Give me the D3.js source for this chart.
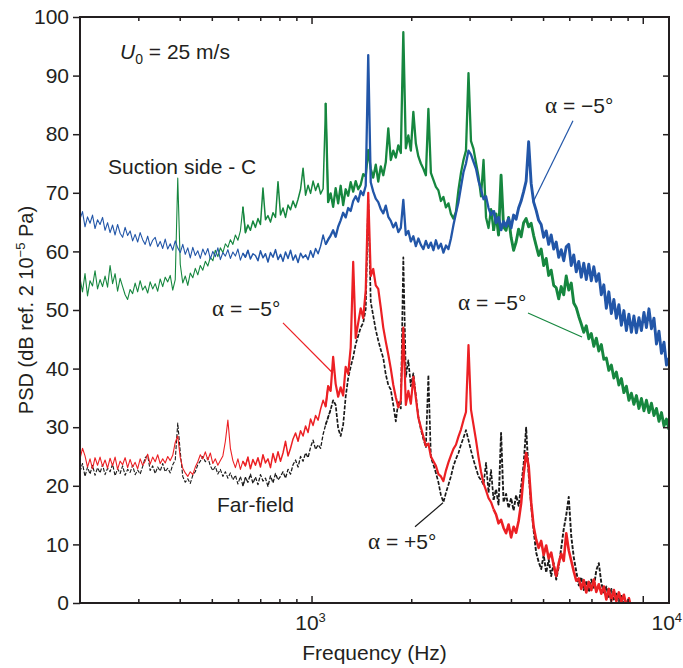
<!DOCTYPE html>
<meta charset="utf-8">
<style>
body { margin: 0; background: #fff; }
text { font-family: "Liberation Sans", Arial, sans-serif; fill: #231f20; }
.axis path, .axis line { stroke: #231f20; }
.greek { font-family: "Liberation Serif", "DejaVu Serif", serif; }
</style>
<script src="https://cdn.jsdelivr.net/npm/d3@7"></script>
<body>
<div id="chart"></div>
<script>
// analyser bins, log spaced from 200 Hz to 12 kHz (236 bins)
var fMin = 200, fMax = 12000, nBins = 236;
var freqs = d3.range(nBins).map(function(i) { return fMin * Math.pow(fMax / fMin, i / (nBins - 1)); });

// suction side, alpha = -5 deg (blue)
var suctionBlue = [
  65.5, 66.8, 64.2, 65.9, 64.8, 66.2, 63.9, 65.4, 64.6, 65.8,
  63.6, 64.9, 63.2, 64.5, 62.8, 64.6, 63.1, 62.4, 64.1, 62.7,
  63.5, 61.8, 62.9, 61.6, 63.2, 62.0, 61.2, 62.6, 60.9, 61.9,
  62.4, 60.8, 61.7, 60.5, 62.1, 60.4, 61.3, 60.2, 61.8, 60.6,
  59.8, 61.2, 59.5, 60.6, 58.9, 60.7, 59.3, 60.1, 58.8, 60.4,
  59.4, 60.5, 58.7, 60.0, 59.1, 60.6, 58.6, 59.8, 59.2, 60.3,
  58.8, 59.9, 59.2, 60.4, 58.5, 59.7, 59.0, 60.2, 58.7, 59.6,
  59.3, 58.4, 60.1, 58.9, 59.6, 58.2, 59.8, 59.0, 60.3, 58.6,
  59.5, 58.3, 59.9, 58.8, 60.2, 58.5, 59.4, 58.1, 59.7, 58.9,
  59.4, 58.6, 60.1, 59.0, 60.5, 59.6, 60.9, 62.8, 61.2, 62.0,
  62.7, 63.6, 62.5, 64.2, 65.3, 66.6, 65.8, 67.4, 66.9, 68.6,
  69.4, 68.5, 70.3, 69.6, 71.2, 93.5, 71.8, 70.2, 69.0, 68.4,
  67.2, 66.5, 67.8, 65.9, 65.2, 64.1, 64.9, 63.3, 64.0, 68.8,
  62.8, 63.5, 61.7, 62.6, 60.9, 62.2, 61.1, 60.4, 61.8, 60.6,
  61.5, 60.2, 61.9, 60.5, 61.3, 59.8, 61.0, 60.4, 62.2, 64.5,
  66.5, 68.4, 71.0, 73.5, 75.0, 77.2, 76.5, 75.3, 74.1, 72.0,
  70.6, 68.9, 69.4, 67.4, 66.2, 67.0, 64.9, 65.8, 63.7, 65.1,
  64.3, 65.6, 64.0, 66.2, 65.5, 67.4, 68.6, 70.2, 72.0, 78.7,
  71.6, 68.4, 67.0, 65.3, 64.6, 62.4, 63.5, 61.2, 62.8, 60.4,
  61.6, 59.0, 60.3, 58.4, 60.8, 61.2, 57.6, 59.4, 56.5, 58.3,
  55.6, 58.0, 55.2, 57.8, 55.0, 57.4, 54.9, 56.2, 52.6, 54.3,
  50.3, 53.1, 49.4, 51.8, 48.6, 50.9, 47.4, 49.9, 46.5, 49.3,
  46.2, 49.0, 46.1, 48.7, 46.5, 49.6, 47.0, 50.2, 46.8, 48.6,
  44.2, 46.4, 42.6, 44.5, 40.6, 41.8
];

// suction side, second config (green)
var suctionGreen = [
  55.4, 53.1, 56.2, 52.4, 55.0, 54.1, 56.7, 53.6, 55.2, 54.0,
  55.8, 53.9, 57.6, 54.5, 56.2, 53.2, 55.4, 54.0, 52.6, 51.8,
  53.5, 52.8, 54.6, 53.1, 55.0, 53.4, 54.1, 52.9, 54.8, 53.6,
  54.5, 53.2, 55.3, 54.0, 55.6, 54.8, 55.9, 53.4, 55.2, 72.5,
  57.8, 54.6, 55.8, 54.2, 56.3, 55.5, 57.1, 56.0, 57.6, 56.8,
  58.3, 57.5, 59.0, 58.4, 60.2, 59.1, 60.6, 59.8, 61.3, 60.7,
  62.0, 61.2, 62.8, 61.9, 63.5, 67.6, 63.2, 64.5, 63.6, 65.2,
  64.1, 65.6, 64.6, 70.8, 65.4, 66.1, 65.0, 66.6, 65.8, 71.9,
  66.2, 67.4, 65.8, 67.9, 67.1, 68.6, 67.5, 68.9, 70.6, 74.2,
  69.6, 71.3, 69.9, 72.0, 70.4, 71.6, 69.8, 70.7, 85.3, 68.4,
  69.9, 67.6, 70.8, 68.2, 71.2, 67.9, 70.6, 69.5, 71.8, 70.2,
  72.0, 70.6, 71.4, 73.2, 72.8, 77.3, 74.1, 72.6, 74.8, 71.9,
  74.5, 73.0, 75.2, 81.0, 75.6, 77.2, 76.0, 78.1, 76.8, 97.4,
  77.6, 79.8, 77.2, 83.8, 78.4, 76.2, 75.0, 74.1, 73.0, 84.3,
  73.4, 72.2, 71.0, 70.4, 68.6, 69.3, 67.5, 68.2, 66.4, 65.6,
  66.8, 70.5, 73.4, 75.6, 77.2, 90.4, 78.8, 77.5, 75.1, 72.8,
  69.4, 75.6, 65.8, 64.0, 67.2, 63.5, 66.4, 62.8, 73.0, 64.2,
  63.6, 65.8, 62.4, 60.2, 61.6, 63.8, 62.5, 64.9, 65.6, 64.2,
  64.8, 62.7, 61.0, 59.3, 60.4, 57.6, 58.8, 55.9, 56.8, 54.2,
  53.8, 51.9, 54.0, 52.6, 55.8, 53.4, 54.6, 51.2, 50.4, 48.9,
  47.6, 46.2, 47.3, 45.1, 46.0, 43.8, 45.2, 43.0, 44.1, 41.6,
  41.8, 39.7, 40.6, 38.4, 39.4, 37.2, 38.3, 35.9, 37.0, 34.6,
  35.8, 33.9, 35.4, 33.2, 34.9, 32.8, 34.6, 32.5, 34.1, 32.0,
  33.2, 31.0, 32.5, 30.2, 31.4, 29.6
];

// far field, alpha = -5 deg (red)
var farRed = [
  24.6, 26.4, 25.1, 23.2, 24.6, 22.9, 24.8, 23.5, 24.9, 23.3,
  24.4, 23.0, 24.7, 23.4, 24.9, 22.8, 24.2, 23.6, 24.8, 23.1,
  24.5, 23.2, 24.0, 22.9, 24.6, 23.5, 24.2, 25.4, 23.7, 24.9,
  24.1, 25.3, 23.8, 24.6, 23.9, 25.0, 24.3, 25.2, 27.4, 28.5,
  24.8, 23.0, 22.2, 21.6, 22.4, 21.9, 23.2, 24.1, 25.3, 24.6,
  25.8, 24.4, 25.6, 23.8, 24.6, 23.5, 24.3, 25.1, 27.6, 31.2,
  26.4, 24.3, 23.1, 24.6, 22.8, 24.2, 23.4, 24.9, 22.9, 24.5,
  23.5, 24.8, 23.2, 25.3, 23.9, 24.6, 23.1, 25.5, 24.0, 25.8,
  24.2, 25.6, 27.6, 25.1, 26.4, 28.0, 29.0, 27.6, 29.4, 28.5,
  30.2, 29.1, 31.4, 30.3, 32.0, 31.2, 33.1, 34.6, 33.5, 37.0,
  36.2, 42.0, 37.4, 35.2, 36.8, 35.4, 40.3, 39.1, 43.6, 58.2,
  45.2, 47.8, 50.3, 48.6, 53.4, 70.0, 55.8, 57.0, 54.2, 53.6,
  50.4, 47.0, 44.6, 42.4, 40.0, 37.2, 35.1, 33.4, 34.6, 47.0,
  33.8, 36.2, 34.0, 38.6, 35.0, 31.6, 30.0, 28.4, 26.8, 27.2,
  25.0, 24.2, 23.4, 22.0, 21.6, 20.8, 22.6, 24.0, 25.2, 26.3,
  27.0, 28.4, 29.6, 31.2, 32.6, 44.0, 33.0, 30.4, 27.8, 24.9,
  22.4, 20.4, 19.2, 17.9, 17.2, 16.0, 15.1, 13.6, 14.2, 12.8,
  11.9, 13.4, 11.2, 13.0, 12.0, 14.0, 17.0, 22.0, 25.6, 23.4,
  17.2, 13.0, 10.8, 9.4, 10.6, 8.2, 9.8, 7.6, 8.6, 6.4,
  4.6, 6.8, 8.4, 7.2, 11.9, 9.0, 7.2, 5.4, 3.8, 4.2,
  2.4, 3.9, 1.8, 3.6, 2.2, 4.0, 1.9, 3.2, 1.6, 2.8,
  0.6, 2.4, 0.4, 2.2, 0.3, 1.8, 0.2, 1.4, -0.5, 0.8,
  -1.0
];

// far field, alpha = +5 deg (black dashed)
var farBlack = [
  22.4, 23.8, 21.6, 23.2, 22.0, 23.5, 21.8, 23.1, 22.2, 23.6,
  21.9, 23.0, 22.4, 23.7, 21.7, 22.9, 22.1, 23.4, 21.8, 22.8,
  22.3, 23.5, 21.9, 22.7, 22.0, 23.3, 24.8, 25.2, 22.6, 23.4,
  22.1, 23.2, 22.5, 23.8, 22.4, 23.0, 22.2, 23.6, 24.4, 30.7,
  25.8, 21.6, 20.6, 21.2, 20.4, 21.8, 22.4, 23.6, 24.2, 25.0,
  24.1, 24.8, 23.4, 22.6, 23.3, 22.0, 22.8, 21.6, 22.4, 21.3,
  22.2, 21.0, 21.8, 20.3, 21.6, 20.0, 21.4, 20.6, 22.0, 20.4,
  21.5, 20.2, 21.9, 20.8, 21.3, 19.9, 21.7, 20.5, 22.1, 21.0,
  21.6, 22.4, 21.3, 22.8, 22.0, 23.6, 24.4, 23.2, 25.0, 24.2,
  25.6, 24.8, 26.6, 27.8, 26.2, 27.0, 26.4, 28.8, 30.4, 31.7,
  33.0, 34.6, 33.8, 29.8, 28.5, 30.4, 35.2, 38.4, 40.3, 42.0,
  44.2, 45.6, 47.0, 47.8, 50.2, 69.0, 51.4, 49.0, 46.6, 44.8,
  43.2, 41.8, 39.0, 37.2, 36.4, 33.8, 31.0, 34.4, 33.2, 59.0,
  38.6, 41.4, 37.0, 39.2, 35.4, 31.8, 29.6, 28.0, 26.6, 38.9,
  24.8, 23.6, 22.2, 20.6, 18.4, 17.2, 18.8, 20.2, 21.6, 23.4,
  24.6, 25.6, 27.0, 28.2, 29.5, 27.8, 26.0, 24.4, 23.0, 21.6,
  21.0, 20.2, 23.9, 18.8, 22.7, 17.6, 19.4, 16.8, 29.0, 17.2,
  18.6, 16.2, 17.9, 15.8, 18.4, 16.6, 19.8, 23.6, 29.9, 22.0,
  16.8, 12.4, 8.6, 7.0, 5.8, 8.2, 5.2, 7.4, 4.6, 6.8,
  4.0, 6.2, 9.4, 12.6, 15.0, 18.1, 11.4, 7.8, 5.4, 3.0,
  4.4, 2.2, 3.8, 1.9, 4.0, 2.6, 5.6, 6.8, 3.4, 1.8,
  2.8, 0.8, 2.4, 0.6, 1.6, 0.3, 1.2, -0.4, 0.5, -0.8
];

var yTicks = [0, 10, 20, 30, 40, 50, 60, 70, 80, 90, 100];
var xMinor = [300, 400, 500, 600, 700, 800, 900, 2000, 3000, 4000, 5000, 6000, 7000, 8000, 9000];
var xMajor = [1000, 10000];
var xMajorExp = ["3", "4"];

var W = 683, H = 668;
var margin = {top: 17, right: 14, bottom: 65, left: 80};
var width = W - margin.left - margin.right,
    height = H - margin.top - margin.bottom;

var svg = d3.select("#chart").append("svg")
    .attr("width", W).attr("height", H);

var x = d3.scaleLog().domain([fMin, fMax]).range([margin.left, margin.left + width]);
var y = d3.scaleLinear().domain([0, 100]).range([margin.top + height, margin.top]);

svg.append("clipPath").attr("id", "plotclip")
  .append("rect")
    .attr("x", margin.left).attr("y", margin.top)
    .attr("width", width).attr("height", height);

// the bins get denser on a log axis, so the trace is drawn heavier as frequency rises
function drawSeries(vals, color, dash, widths) {
    var bands = [[0, 650, 1.1], [620, 1150, widths[0]], [1100, 3600, widths[1]], [3500, fMax, widths[2]]];
    bands.forEach(function(b) {
        var line = d3.line()
            .defined(function(d, i) { return freqs[i] >= b[0] && freqs[i] <= b[1]; })
            .x(function(d, i) { return x(freqs[i]); })
            .y(function(d) { return y(d); });
        svg.append("path")
            .datum(vals)
            .attr("clip-path", "url(#plotclip)")
            .attr("fill", "none")
            .attr("stroke", color)
            .attr("stroke-width", b[2])
            .attr("stroke-linejoin", "round")
            .attr("stroke-dasharray", dash || null)
            .attr("d", line);
    });
}

drawSeries(suctionGreen, "#16873f", null, [1.5, 2.3, 2.9]);
drawSeries(suctionBlue, "#2256a8", null, [1.5, 2.3, 2.9]);
drawSeries(farBlack, "#1a1a1a", "4,1.6", [1.3, 1.7, 1.9]);
drawSeries(farRed, "#ec2024", null, [1.5, 2.2, 2.6]);

// axes
var bottomY = margin.top + height, rightX = margin.left + width;

svg.append("g").attr("class", "axis")
    .attr("transform", "translate(" + margin.left + ",0)")
    .call(d3.axisLeft(y).tickValues(yTicks).tickSize(7).tickPadding(4))
    .call(function(g) {
        g.select(".domain").remove();
        g.selectAll("line").attr("stroke-width", 1.5);
        g.selectAll("text").style("font-size", "21px");
    });

svg.append("g").attr("class", "axis")
    .attr("transform", "translate(" + rightX + ",0)")
    .call(d3.axisLeft(y).tickValues(yTicks.slice(1, -1)).tickSize(6).tickFormat(""))
    .call(function(g) { g.select(".domain").remove(); g.selectAll("line").attr("stroke-width", 1.5); });

[[margin.top, d3.axisBottom], [bottomY, d3.axisTop]].forEach(function(a) {
    svg.append("g").attr("class", "axis")
        .attr("transform", "translate(0," + a[0] + ")")
        .call(a[1](x).tickValues(xMinor).tickSize(4).tickFormat(""))
        .call(function(g) { g.select(".domain").remove(); g.selectAll("line").attr("stroke-width", 1.5); });
    svg.append("g").attr("class", "axis")
        .attr("transform", "translate(0," + a[0] + ")")
        .call(a[1](x).tickValues(xMajor).tickSize(7).tickFormat(""))
        .call(function(g) { g.select(".domain").remove(); g.selectAll("line").attr("stroke-width", 1.5); });
});

// x tick labels (10^4 label sits right of its tick, as in the original)
var xLab = svg.append("g").selectAll("text")
    .data(xMajor).enter().append("text")
    .attr("x", function(d, i) { return x(d) + (i === 1 ? 24 : -1); })
    .attr("y", bottomY + 27)
    .attr("text-anchor", "middle")
    .style("font-size", "21px");
xLab.append("tspan").text("10");
xLab.append("tspan").attr("dy", -8).style("font-size", "13px")
    .text(function(d, i) { return xMajorExp[i]; });

// frame
svg.append("rect")
    .attr("x", margin.left).attr("y", margin.top)
    .attr("width", width).attr("height", height)
    .attr("fill", "none").attr("stroke", "#231f20").attr("stroke-width", 2);

// axis titles
svg.append("text")
    .attr("x", margin.left + width / 2)
    .attr("y", H - 8)
    .attr("text-anchor", "middle")
    .style("font-size", "21px")
    .text("Frequency (Hz)");

var yt = svg.append("text")
    .attr("transform", "translate(33," + 310 + ") rotate(-90)")
    .attr("text-anchor", "middle")
    .style("font-size", "20px");
yt.append("tspan").text("PSD (dB ref. 2 10");
yt.append("tspan").attr("dy", -8).style("font-size", "13px").text("\u22125");
yt.append("tspan").attr("dy", 8).text(" Pa)");

// labels
var u0 = svg.append("text").attr("x", 120).attr("y", 59).style("font-size", "21px");
u0.append("tspan").style("font-style", "italic").text("U");
u0.append("tspan").attr("dy", 5).style("font-size", "14px").text("0");
u0.append("tspan").attr("dy", -5).text(" = 25 m/s");

svg.append("text").attr("x", 108).attr("y", 174).style("font-size", "21px").text("Suction side - C");
svg.append("text").attr("x", 217).attr("y", 512).style("font-size", "21px").text("Far-field");

// angle annotations: text position, leader line in data units (Hz, dB)
var notes = [
    {tx: 545, ty: 113, sign: "\u2212", color: "#2256a8", f0: 6156, v0: 82.3, f1: 4662, v1: 68.4},
    {tx: 458, ty: 310, sign: "\u2212", color: "#16873f", f0: 4504, v0: 49.5, f1: 6554, v1: 45.4},
    {tx: 212, ty: 316, sign: "\u2212", color: "#ec2024", f0: 820, v0: 47.8, f1: 1161, v1: 39.2},
    {tx: 368, ty: 549, sign: "+", color: "#1a1a1a", f0: 2053, v0: 13.0, f1: 2494, v1: 17.1}
];
notes.forEach(function(n) {
    svg.append("line")
        .attr("x1", x(n.f0)).attr("y1", y(n.v0))
        .attr("x2", x(n.f1)).attr("y2", y(n.v1))
        .attr("stroke", n.color).attr("stroke-width", 1.2);
    var t = svg.append("text").attr("x", n.tx).attr("y", n.ty).style("font-size", "21px");
    t.append("tspan").attr("class", "greek").style("font-size", "23px").text("\u03b1");
    t.append("tspan").text(" = " + n.sign + "5\u00b0");
});
</script>
</body>
